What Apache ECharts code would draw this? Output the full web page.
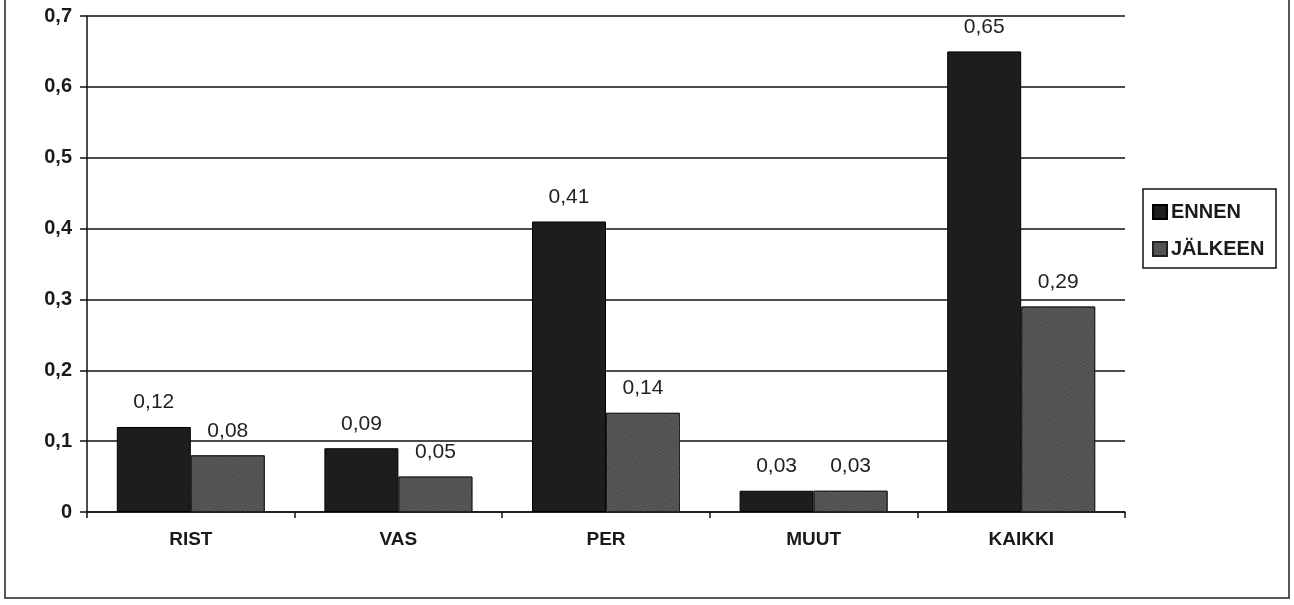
<!DOCTYPE html>
<html>
<head>
<meta charset="utf-8">
<title>ENNEN / JÄLKEEN</title>
<script src="https://cdn.jsdelivr.net/npm/echarts@6/dist/echarts.min.js"></script>
<style>
  html, body { margin: 0; padding: 0; background: #fff; }
  #chart { width: 1294px; height: 605px; }
</style>
</head>
<body>
<div id="chart"></div>
<script>
  // data
  const categories = ['RIST', 'VAS', 'PER', 'MUUT', 'KAIKKI'];
  const ennen = [0.12, 0.09, 0.41, 0.03, 0.65];
  const jalkeen = [0.08, 0.05, 0.14, 0.03, 0.29];
  const seriesNames = ['ENNEN', 'JÄLKEEN'];

  const fmt = v => String(v).replace('.', ',');
  const FONT = '"Liberation Sans", Arial, sans-serif';

  const myChart = echarts.init(document.getElementById('chart'));
  const options = {
    backgroundColor: '#fff',
    animation: false,
    grid: {
      left: 87,
      right: 169,
      top: 16,
      bottom: 93
    },
    legend: {
      orient: 'vertical',
      left: 1147,
      top: 201,
      padding: [0, 0, 0, 5],
      itemGap: 15,
      itemWidth: 14,
      itemHeight: 14,
      icon: 'rect',
      textStyle: {
        fontFamily: FONT,
        fontWeight: 'bold',
        fontSize: 20,
        lineHeight: 22,
        color: '#1a1a1a',
        padding: [0, 0, 0, -1]
      },
      data: seriesNames
    },
    xAxis: [{
      type: 'category',
      data: categories,
      axisLine: {
        show: true,
        lineStyle: { color: '#111', width: 1.5 }
      },
      axisTick: {
        show: true,
        length: 6,
        lineStyle: { color: '#111', width: 1.5 }
      },
      axisLabel: {
        margin: 18,
        fontFamily: FONT,
        fontWeight: 'bold',
        fontSize: 19,
        color: '#1a1a1a'
      },
      splitLine: { show: false }
    }],
    yAxis: [{
      type: 'value',
      min: 0,
      max: 0.7,
      interval: 0.1,
      axisLine: {
        show: true,
        lineStyle: { color: '#111', width: 1.5 }
      },
      axisTick: {
        show: true,
        length: 7,
        lineStyle: { color: '#111', width: 1.5 }
      },
      axisLabel: {
        margin: 15,
        fontFamily: FONT,
        fontWeight: 'bold',
        fontSize: 20,
        color: '#1a1a1a',
        formatter: v => fmt(Math.round(v * 10) / 10)
      },
      splitLine: {
        show: true,
        lineStyle: { color: '#111', width: 1.5 }
      }
    }],
    series: [{
      name: seriesNames[0],
      type: 'bar',
      barWidth: 74,
      barGap: '0%',
      itemStyle: {
        color: '#1d1d1d',
        borderColor: '#000',
        borderWidth: 1
      },
      label: {
        show: true,
        position: 'top',
        distance: 14,
        fontFamily: FONT,
        fontSize: 21,
        color: '#222',
        formatter: p => fmt(p.value)
      },
      data: ennen
    }, {
      name: seriesNames[1],
      type: 'bar',
      barWidth: 74,
      barGap: '0%',
      itemStyle: {
        color: '#505050',
        borderColor: '#222',
        borderWidth: 1,
        decal: {
          symbol: 'rect',
          symbolSize: 1,
          color: 'rgba(140,140,140,0.5)',
          dashArrayX: [1, 2],
          dashArrayY: [1, 2],
          rotation: 0.6
        }
      },
      label: {
        show: true,
        position: 'top',
        distance: 14,
        fontFamily: FONT,
        fontSize: 21,
        color: '#222',
        formatter: p => fmt(p.value)
      },
      data: jalkeen
    }],
    graphic: [{
      // outer chart frame (top edge is cut off in the original)
      type: 'rect',
      shape: { x: 5, y: -10, width: 1284, height: 608 },
      style: { fill: 'none', stroke: '#222', lineWidth: 1.5 },
      silent: true
    }, {
      // legend frame
      type: 'rect',
      shape: { x: 1143, y: 189, width: 133, height: 79 },
      style: { fill: 'none', stroke: '#111', lineWidth: 1.5 },
      silent: true
    }]
  };
  myChart.setOption(options, true);
  window.addEventListener('resize', function () {
    myChart.resize();
  });
</script>
</body>
</html>
